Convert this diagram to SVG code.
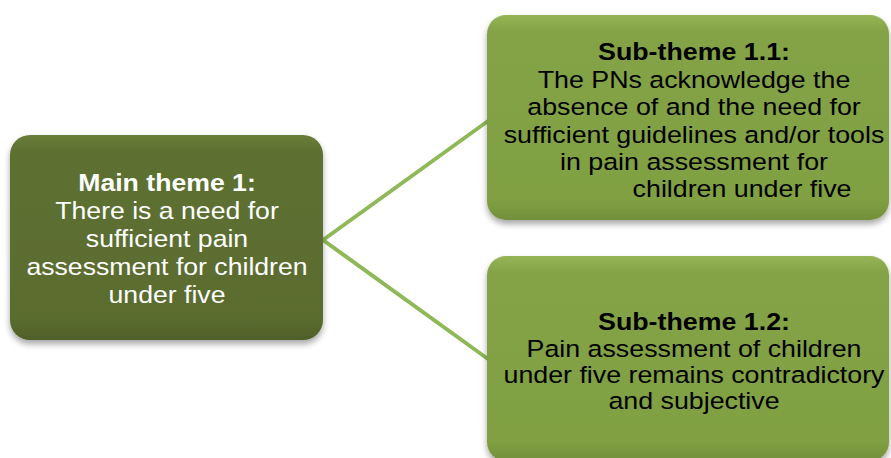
<svg xmlns="http://www.w3.org/2000/svg" width="891" height="458" viewBox="0 0 891 458">
  <style>
    .t { font-family: "Liberation Sans", Arial, sans-serif; text-anchor: middle; }
    .main { fill: #ffffff; font-size: 24px; }
    .sub { fill: #000000; font-size: 23.5px; }
    .b { font-weight: bold; }
    .conn { stroke: #8fb856; stroke-width: 4; fill: none; stroke-linecap: round; }
  </style>
  <defs>
    <linearGradient id="gMain" x1="0" y1="0" x2="0" y2="1">
      <stop offset="0" stop-color="#6a7e3a"/>
      <stop offset="0.08" stop-color="#5d7031"/>
      <stop offset="0.9" stop-color="#5a6c2f"/>
      <stop offset="1" stop-color="#4f5f28"/>
    </linearGradient>
    <linearGradient id="gSub" x1="0" y1="0" x2="0" y2="1">
      <stop offset="0" stop-color="#96b556"/>
      <stop offset="0.08" stop-color="#84a346"/>
      <stop offset="0.9" stop-color="#80a043"/>
      <stop offset="1" stop-color="#72903a"/>
    </linearGradient>
    <filter id="sh" x="-10%" y="-10%" width="120%" height="125%">
      <feDropShadow dx="0" dy="4" stdDeviation="3" flood-color="#000" flood-opacity="0.35"/>
    </filter>
  </defs>
  <rect width="891" height="458" fill="#ffffff"/>

  <g id="connectors">
    <line class="conn" x1="323" y1="240" x2="488" y2="121"/>
    <line class="conn" x1="323" y1="240" x2="488" y2="359"/>
  </g>

  <g id="main">
    <rect x="10" y="135" width="313" height="205" rx="20" ry="20" fill="url(#gMain)" filter="url(#sh)"/>
    <g transform="translate(167,0) scale(1.11,1)">
      <text class="t main b" x="0" y="191">Main theme 1:</text>
      <text class="t main" x="0" y="219">There is a need for</text>
      <text class="t main" x="0" y="247">sufficient pain</text>
      <text class="t main" x="0" y="275">assessment for children</text>
      <text class="t main" x="0" y="303">under five</text>
    </g>
  </g>

  <g id="sub11">
    <rect x="487" y="15" width="402" height="205" rx="19" ry="19" fill="url(#gSub)" filter="url(#sh)"/>
    <g transform="translate(694,0) scale(1.14,1)">
      <text class="t sub b" x="0" y="60">Sub-theme 1.1:</text>
      <text class="t sub" x="0" y="88">The PNs acknowledge the</text>
      <text class="t sub" x="0" y="115">absence of and the need for</text>
      <text class="t sub" x="0" y="143">sufficient guidelines and/or tools</text>
      <text class="t sub" x="0" y="170">in pain assessment for</text>
    </g>
    <g transform="translate(742,0) scale(1.14,1)">
      <text class="t sub" x="0" y="197">children under five</text>
    </g>
  </g>

  <g id="sub12">
    <rect x="487" y="256" width="402" height="205" rx="19" ry="19" fill="url(#gSub)" filter="url(#sh)"/>
    <g transform="translate(694,0) scale(1.14,1)">
      <text class="t sub b" x="0" y="330">Sub-theme 1.2:</text>
      <text class="t sub" x="0" y="357">Pain assessment of children</text>
      <text class="t sub" x="0" y="383">under five remains contradictory</text>
      <text class="t sub" x="0" y="409">and subjective</text>
    </g>
  </g>
</svg>
